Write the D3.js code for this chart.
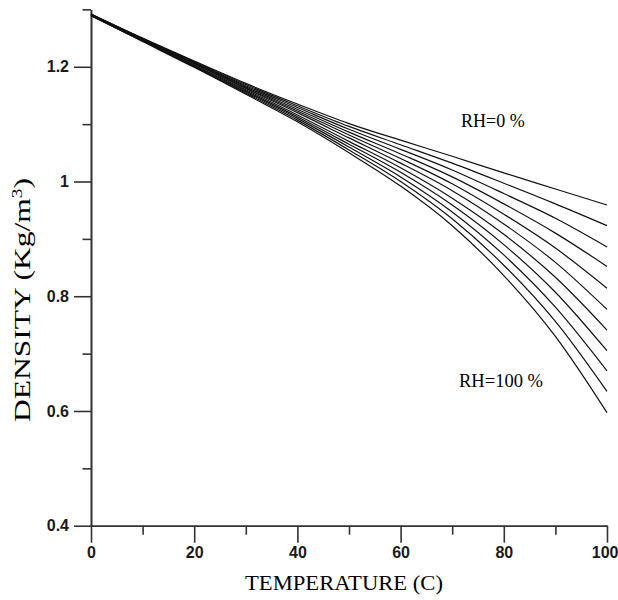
<!DOCTYPE html>
<html>
<head>
<meta charset="utf-8">
<script src="https://cdn.jsdelivr.net/npm/d3@7"></script>
<style>
    body { margin: 0; background: #fff; }
    .tickLabel { font-family: "Liberation Sans", Arial, sans-serif; font-weight: bold; font-size: 16px; }
    .serif { font-family: "Liberation Serif", "Times New Roman", serif; }
</style>
</head>
<body>
<div id="chart"></div>
<script>
"use strict"

// temperature (C) sampled every 10 degrees
const temps = [0, 10, 20, 30, 40, 50, 60, 70, 80, 90, 100];

// density (kg/m3), one array per relative humidity
const rh0   = [1.292, 1.250, 1.210, 1.171, 1.135, 1.101, 1.072, 1.044, 1.015, 0.987, 0.959];
const rh10  = [1.292, 1.249, 1.209, 1.169, 1.132, 1.096, 1.064, 1.032, 0.997, 0.961, 0.923];
const rh20  = [1.291, 1.249, 1.208, 1.167, 1.129, 1.091, 1.056, 1.020, 0.979, 0.936, 0.886];
const rh30  = [1.291, 1.248, 1.207, 1.165, 1.126, 1.086, 1.048, 1.008, 0.961, 0.910, 0.852];
const rh40  = [1.291, 1.248, 1.206, 1.163, 1.123, 1.081, 1.040, 0.996, 0.943, 0.884, 0.814];
const rh50  = [1.291, 1.247, 1.205, 1.162, 1.120, 1.076, 1.032, 0.984, 0.926, 0.859, 0.777];
const rh60  = [1.290, 1.246, 1.203, 1.160, 1.116, 1.070, 1.024, 0.971, 0.908, 0.833, 0.741];
const rh70  = [1.290, 1.246, 1.202, 1.158, 1.113, 1.065, 1.016, 0.959, 0.890, 0.807, 0.705];
const rh80  = [1.290, 1.245, 1.201, 1.156, 1.110, 1.060, 1.008, 0.947, 0.872, 0.781, 0.670];
const rh90  = [1.289, 1.245, 1.200, 1.154, 1.107, 1.055, 1.000, 0.935, 0.854, 0.756, 0.634];
const rh100 = [1.289, 1.244, 1.199, 1.152, 1.104, 1.050, 0.992, 0.923, 0.836, 0.730, 0.597];

const series = [rh0, rh10, rh20, rh30, rh40, rh50, rh60, rh70, rh80, rh90, rh100];

// ticks
const xMajor = [0, 20, 40, 60, 80, 100];
const xMinor = [10, 30, 50, 70, 90];
const yMajor = [0.4, 0.6, 0.8, 1.0, 1.2];
const yMajorLabels = ["0.4", "0.6", "0.8", "1", "1.2"];
const yMinor = [0.5, 0.7, 0.9, 1.1, 1.3];

const width = 618, height = 600;

let svg = d3.select("#chart").append("svg")
    .attr("width", width)
    .attr("height", height);

let x = d3.scaleLinear().domain([0, 100]).range([91, 607]);
let y = d3.scaleLinear().domain([0.4, 1.3]).range([525.7, 9.4]);

let axisColor = "#333";

/* minor ticks first, then the labelled major ticks on top */
let xMinorAxis = svg.append("g")
    .attr("transform", "translate(0," + y(0.4) + ")")
    .call(d3.axisBottom(x).tickValues(xMinor).tickSize(9).tickSizeOuter(0).tickFormat(""));

let xMajorAxis = svg.append("g")
    .attr("transform", "translate(0," + y(0.4) + ")")
    .call(d3.axisBottom(x).tickValues(xMajor).tickSize(17).tickSizeOuter(0).tickPadding(4)
        .tickFormat(d3.format("d")));

let yMinorAxis = svg.append("g")
    .attr("transform", "translate(" + x(0) + ",0)")
    .call(d3.axisLeft(y).tickValues(yMinor).tickSize(8.5).tickSizeOuter(0).tickFormat(""));

let yMajorAxis = svg.append("g")
    .attr("transform", "translate(" + x(0) + ",0)")
    .call(d3.axisLeft(y).tickValues(yMajor).tickSize(17).tickSizeOuter(0).tickPadding(5)
        .tickFormat((d, i) => yMajorLabels[i]));

svg.selectAll(".domain, .tick line")
    .attr("stroke", axisColor)
    .attr("stroke-width", 1.6);

svg.selectAll(".tick text")
    .attr("class", "tickLabel")
    .attr("fill", "#1a1a1a");

// the last x label sits against the right edge of the picture
xMajorAxis.selectAll(".tick text")
    .filter(d => d === 100)
    .attr("text-anchor", "end")
    .attr("dx", 11);

/* density curves */
let line = d3.line()
    .x((d, i) => x(temps[i]))
    .y(d => y(d))
    .curve(d3.curveMonotoneX);

svg.append("g")
    .selectAll("path")
    .data(series)
    .enter().append("path")
    .attr("d", line)
    .attr("fill", "none")
    .attr("stroke", "#111")
    .attr("stroke-width", 1.2);

/* axis titles */
svg.append("text")
    .attr("class", "serif")
    .attr("x", 344)
    .attr("y", 590)
    .attr("text-anchor", "middle")
    .attr("textLength", 198)
    .attr("lengthAdjust", "spacingAndGlyphs")
    .style("font-size", "22px")
    .text("TEMPERATURE (C)");

let yTitle = svg.append("text")
    .attr("class", "serif")
    .attr("transform", "translate(30,300) rotate(-90)")
    .attr("text-anchor", "middle")
    .attr("textLength", 244)
    .attr("lengthAdjust", "spacingAndGlyphs")
    .style("font-size", "23px");

yTitle.append("tspan").text("DENSITY (Kg/m");
yTitle.append("tspan").attr("dy", -8).style("font-size", "14px").text("3");
yTitle.append("tspan").attr("dy", 8).text(")");

/* curve labels */
svg.append("text")
    .attr("class", "serif")
    .attr("x", 461)
    .attr("y", 126.7)
    .style("font-size", "18px")
    .text("RH=0 %");

svg.append("text")
    .attr("class", "serif")
    .attr("x", 459)
    .attr("y", 386.7)
    .style("font-size", "18.5px")
    .text("RH=100 %");
</script>
</body>
</html>
